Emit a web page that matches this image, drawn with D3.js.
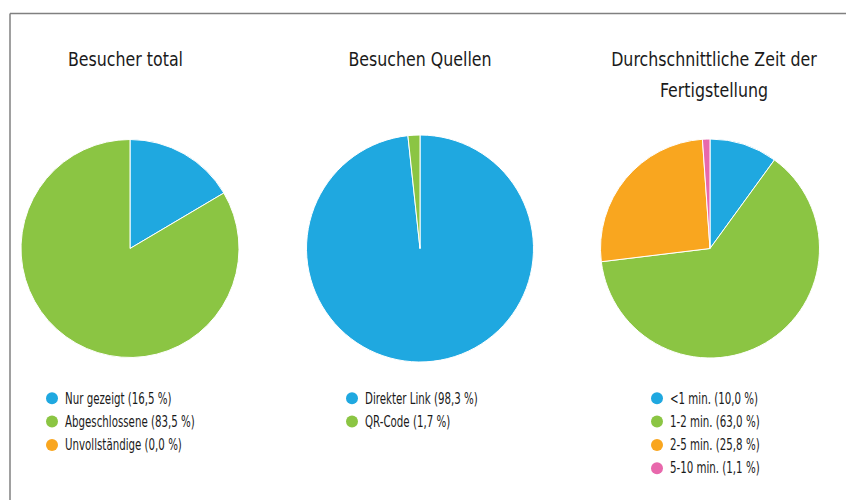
<!DOCTYPE html>
<html>
<head>
<meta charset="utf-8">
<script src="https://cdn.jsdelivr.net/npm/d3@7"></script>
<style>
  body { margin: 0; background: #fff; }
  text { font-family: "Liberation Sans Narrow", "DejaVu Sans Condensed", "Noto Sans", sans-serif; fill: #1a1a1a; }
</style>
</head>
<body>
<div id="chart"></div>
<script>
// data
const titles = [["Besucher total"], ["Besuchen Quellen"], ["Durchschnittliche Zeit der", "Fertigstellung"]];
const visitLabels = ["Nur gezeigt", "Abgeschlossene", "Unvollständige"];
const visitValues = [16.5, 83.5, 0.0];
const sourceLabels = ["Direkter Link", "QR-Code"];
const sourceValues = [98.3, 1.7];
const timeLabels = ["<1 min.", "1-2 min.", "2-5 min.", "5-10 min."];
const timeValues = [10.0, 63.0, 25.8, 1.1];
const colors = ["#1fa8e0", "#8bc543", "#f9a61f", "#e868ac"];

const width = 846, height = 500;
const svg = d3.select("#chart").append("svg")
  .attr("width", width).attr("height", height);

// frame lines (top and left)
svg.append("line").attr("x1", 10).attr("x2", width).attr("y1", 13.5).attr("y2", 13.5)
  .attr("stroke", "#808080").attr("stroke-width", 1.5);
svg.append("line").attr("x1", 10).attr("x2", 10).attr("y1", 13.5).attr("y2", height)
  .attr("stroke", "#808080").attr("stroke-width", 1.5);

const charts = [
  {labels: visitLabels, values: visitValues, cx: 130, r: 109, legendX: 52, titleX: 125.5},
  {labels: sourceLabels, values: sourceValues, cx: 420, r: 113.5, legendX: 352, titleX: 420},
  {labels: timeLabels, values: timeValues, cx: 710, r: 109.5, legendX: 657, titleX: 714}
];

const pie = d3.pie().sort(null).value(d => d);
const fmt = v => d3.format(".1f")(v).replace(".", ",");

charts.forEach((c, i) => {
  const g = svg.append("g");

  // title (squeezed a bit, the original uses a narrow face)
  titles[i].forEach((line, k) => {
    g.append("text")
      .attr("transform", "translate(" + c.titleX + "," + (65.5 + k * 31) + ") scale(0.88,1)")
      .attr("text-anchor", "middle")
      .style("font-size", "20px")
      .text(line);
  });

  // pie
  const arc = d3.arc().innerRadius(0).outerRadius(c.r);
  g.append("g")
    .attr("transform", "translate(" + c.cx + ",248.5)")
    .selectAll("path")
    .data(pie(c.values))
    .enter()
    .append("path")
    .attr("d", arc)
    .attr("fill", (d, j) => colors[j])
    .attr("stroke", "#fff")
    .attr("stroke-width", (d) => d.value > 0 ? 1 : 0);

  // legend
  const y = d3.scaleLinear().domain([0, 1]).range([398.3, 421.6]);
  const item = g.selectAll(".item")
    .data(c.labels)
    .enter()
    .append("g")
    .attr("transform", (d, j) => "translate(" + c.legendX + "," + y(j) + ")");
  item.append("circle")
    .attr("r", 6)
    .attr("fill", (d, j) => colors[j]);
  item.append("text")
    .attr("transform", "translate(13,0) scale(0.76,1)")
    .attr("dy", "0.35em")
    .style("font-size", "15px")
    .text((d, j) => d + " (" + fmt(c.values[j]) + " %)");
});
</script>
</body>
</html>
